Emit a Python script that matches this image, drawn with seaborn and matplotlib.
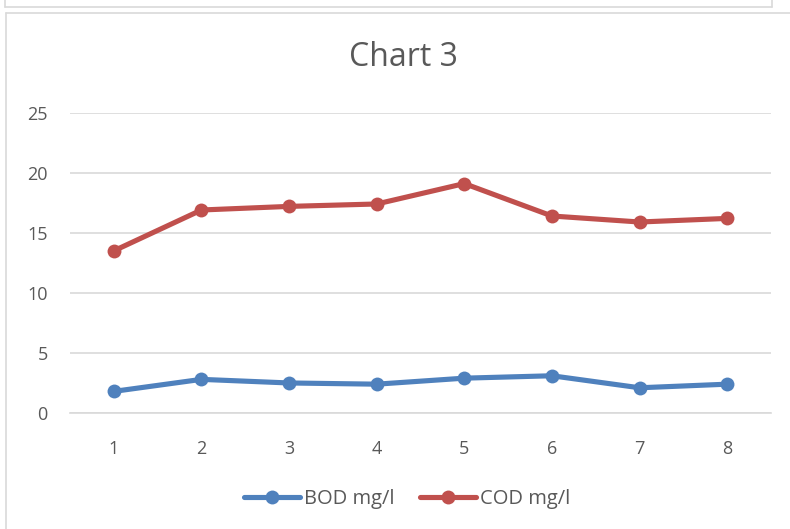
import matplotlib
matplotlib.use("Agg")
import matplotlib.pyplot as plt
import seaborn as sns
import pandas as pd
from matplotlib.lines import Line2D

categories = [1, 2, 3, 4, 5, 6, 7, 8]
bod_values = [1.8, 2.8, 2.5, 2.4, 2.9, 3.1, 2.1, 2.4]
cod_values = [13.5, 16.9, 17.2, 17.4, 19.1, 16.4, 15.9, 16.2]
series_names = ["BOD mg/l", "COD mg/l"]
y_ticks = [0, 5, 10, 15, 20, 25]
title = "Chart 3"

sns.set_theme(style="white")
plt.rcParams["font.family"] = ["Open Sans", "DejaVu Sans"]

df = pd.DataFrame({
    "x": categories * 2,
    "value": bod_values + cod_values,
    "series": [series_names[0]] * len(categories) + [series_names[1]] * len(categories),
})

fig = plt.figure(figsize=(7.9, 5.29), dpi=100)
ax = fig.add_axes([70 / 790, 1 - 413 / 529, (771 - 70) / 790, (413 - 112.7) / 529])

palette = {series_names[0]: "#4F81BD", series_names[1]: "#C0504D"}
sns.lineplot(data=df, x="x", y="value", hue="series", palette=palette, ax=ax,
             marker="o", markersize=10, markeredgewidth=0, linewidth=3.7, legend=False)

ax.set_xlim(0.5, 8.5)
ax.set_ylim(0, 25)
ax.set_yticks(y_ticks)
ax.set_xticks(categories)
ax.set_xticklabels([str(c) for c in categories])
ax.grid(axis="y", color="#D9D9D9", linewidth=1.2)
ax.set_axisbelow(True)
for s in ["top", "right", "left"]:
    ax.spines[s].set_visible(False)
ax.spines["bottom"].set_color("#D9D9D9")
ax.spines["bottom"].set_linewidth(1.2)
ax.tick_params(axis="both", length=0, labelsize=13, labelcolor="#595959")
ax.tick_params(axis="x", pad=19.5)
ax.tick_params(axis="y", pad=16)
ax.set_xlabel("")
ax.set_ylabel("")

fig.text(403.5 / 790, 1 - 58 / 529, title, ha="center", va="center",
         fontsize=23, color="#595959")

handles = [Line2D([0], [0], color=palette[n], lw=3.7, marker="o", markersize=10,
                  markeredgewidth=0) for n in series_names]
fig.legend(handles, series_names, loc="center", bbox_to_anchor=(407 / 790, 1 - 499 / 529),
           ncol=2, frameon=False, fontsize=14.5, labelcolor="#595959",
           handlelength=2.75, handletextpad=0.2, columnspacing=1.3)

# frames (previous chart box and this chart box)
fc = "#D9D9D9"
fig.add_artist(Line2D([5 / 790, 772 / 790], [1 - 7 / 529, 1 - 7 / 529], color=fc, lw=1.2, transform=fig.transFigure))
fig.add_artist(Line2D([5 / 790, 5 / 790], [1, 1 - 7 / 529], color=fc, lw=1.2, transform=fig.transFigure))
fig.add_artist(Line2D([772 / 790, 772 / 790], [1, 1 - 7 / 529], color=fc, lw=1.2, transform=fig.transFigure))
fig.add_artist(Line2D([6 / 790, 1], [1 - 13 / 529, 1 - 13 / 529], color=fc, lw=1.2, transform=fig.transFigure))
fig.add_artist(Line2D([6 / 790, 6 / 790], [0, 1 - 13 / 529], color=fc, lw=1.2, transform=fig.transFigure))

fig.savefig("out.png", dpi=100)
